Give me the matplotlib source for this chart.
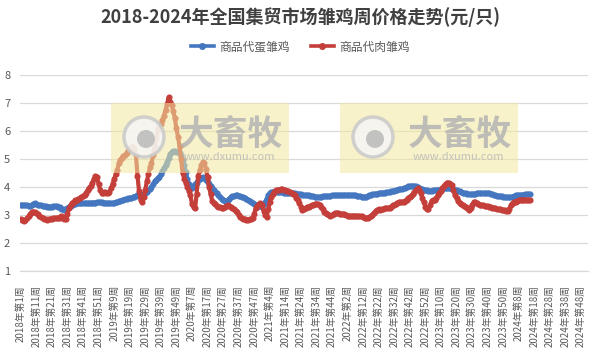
import matplotlib.pyplot as plt
from matplotlib.patches import Rectangle, Circle
from matplotlib.lines import Line2D

plt.rcParams['font.family'] = ['Noto Sans CJK SC', 'DejaVu Sans']

# 年份与每年的周数（2020年有53周）
years = [2018, 2019, 2020, 2021, 2022, 2023, 2024]
weeks_per_year = [52, 52, 53, 52, 52, 52, 52]

# 商品代蛋雏鸡 周价格 (元/只)
egg_2018 = [3.36, 3.36, 3.35, 3.35, 3.34, 3.33, 3.33, 3.36, 3.40, 3.42,
            3.40, 3.37, 3.35, 3.34, 3.33, 3.32, 3.31, 3.30, 3.30, 3.30,
            3.30, 3.31, 3.32, 3.32, 3.30, 3.27, 3.23, 3.20, 3.19, 3.20,
            3.25, 3.30, 3.33, 3.35, 3.38, 3.40, 3.42, 3.43, 3.43, 3.43,
            3.42, 3.42, 3.43, 3.43, 3.43, 3.43, 3.44, 3.44, 3.44, 3.45,
            3.45, 3.45]
egg_2019 = [3.45, 3.44, 3.44, 3.43, 3.43, 3.43, 3.43, 3.43, 3.43, 3.45,
            3.47, 3.49, 3.51, 3.53, 3.54, 3.56, 3.57, 3.59, 3.60, 3.62,
            3.64, 3.66, 3.68, 3.70, 3.71, 3.72, 3.73, 3.75, 3.78, 3.83,
            3.88, 3.94, 4.00, 4.10, 4.20, 4.26, 4.31, 4.36, 4.45, 4.58,
            4.68, 4.78, 4.90, 5.05, 5.18, 5.24, 5.27, 5.27, 5.26, 5.25,
            5.20, 5.10]
egg_2020 = [4.95, 4.80, 4.55, 4.30, 4.10, 3.96, 3.98, 4.05, 4.10, 4.16,
            4.24, 4.30, 4.33, 4.35, 4.32, 4.25, 4.18, 4.10, 4.02, 3.95,
            3.88, 3.82, 3.78, 3.70, 3.63, 3.58, 3.53, 3.50, 3.48, 3.52,
            3.58, 3.64, 3.67, 3.69, 3.70, 3.70, 3.69, 3.68, 3.66, 3.64,
            3.60, 3.56, 3.52, 3.49, 3.46, 3.43, 3.40, 3.37, 3.35, 3.33,
            3.31, 3.30, 3.38]
egg_2021 = [3.45, 3.58, 3.70, 3.78, 3.82, 3.83, 3.83, 3.83, 3.82, 3.83,
            3.82, 3.81, 3.80, 3.80, 3.80, 3.79, 3.79, 3.78, 3.78, 3.77,
            3.76, 3.76, 3.75, 3.74, 3.73, 3.72, 3.71, 3.70, 3.70, 3.69,
            3.68, 3.67, 3.66, 3.65, 3.65, 3.65, 3.66, 3.67, 3.68, 3.68,
            3.68, 3.68, 3.69, 3.70, 3.70, 3.71, 3.71, 3.71, 3.70, 3.70,
            3.71, 3.72]
egg_2022 = [3.72, 3.72, 3.71, 3.70, 3.70, 3.71, 3.70, 3.69, 3.68, 3.67,
            3.66, 3.65, 3.65, 3.66, 3.68, 3.70, 3.72, 3.74, 3.75, 3.76,
            3.76, 3.77, 3.78, 3.79, 3.80, 3.80, 3.81, 3.82, 3.83, 3.85,
            3.86, 3.87, 3.88, 3.90, 3.92, 3.93, 3.94, 3.96, 3.98, 4.00,
            4.02, 4.03, 4.04, 4.04, 4.03, 4.02, 4.00, 3.97, 3.94, 3.92,
            3.90, 3.89]
egg_2023 = [3.88, 3.87, 3.87, 3.87, 3.88, 3.88, 3.89, 3.90, 3.91, 3.92,
            3.94, 3.96, 3.97, 3.97, 3.96, 3.95, 3.93, 3.92, 3.91, 3.90,
            3.87, 3.84, 3.81, 3.79, 3.78, 3.77, 3.76, 3.75, 3.75, 3.75,
            3.75, 3.76, 3.77, 3.78, 3.78, 3.78, 3.78, 3.78, 3.78, 3.78,
            3.77, 3.76, 3.74, 3.72, 3.70, 3.69, 3.68, 3.68, 3.67, 3.66,
            3.65, 3.64]
egg_2024 = [3.63, 3.63, 3.64, 3.66, 3.68, 3.70, 3.71, 3.71, 3.72, 3.72,
            3.73, 3.74, 3.74, 3.75, 3.75]

# 商品代肉雏鸡 周价格 (元/只)
meat_2018 = [2.85, 2.83, 2.80, 2.82, 2.88, 2.95, 3.02, 3.10, 3.12, 3.10,
             3.08, 3.02, 2.96, 2.92, 2.88, 2.85, 2.84, 2.82, 2.84, 2.86,
             2.87, 2.88, 2.88, 2.89, 2.90, 2.90, 2.95, 2.93, 2.84, 2.85,
             3.05, 3.25, 3.35, 3.42, 3.48, 3.52, 3.55, 3.58, 3.60, 3.64,
             3.68, 3.72, 3.80, 3.88, 3.95, 4.05, 4.15, 4.30, 4.38, 4.36,
             4.10, 3.90]
meat_2019 = [3.78, 3.80, 3.83, 3.80, 3.78, 3.82, 3.95, 4.12, 4.30, 4.45,
             4.60, 4.85, 4.98, 5.05, 5.10, 5.15, 5.22, 5.30, 5.38, 5.42,
             5.44, 5.35, 5.15, 4.40, 3.85, 3.55, 3.47, 3.65, 3.90, 4.20,
             4.45, 4.70, 4.85, 5.15, 5.45, 5.75, 6.04, 6.15, 6.25, 6.38,
             6.55, 6.75, 6.95, 7.20, 7.05, 6.92, 6.70, 6.45, 6.10, 5.80,
             5.45, 5.00]
meat_2020 = [4.50, 4.30, 4.15, 4.00, 3.85, 3.70, 3.40, 3.28, 3.24, 3.75,
             4.40, 4.60, 4.78, 4.88, 4.85, 4.65, 4.35, 4.00, 3.75, 3.50,
             3.42, 3.38, 3.32, 3.30, 3.28, 3.26, 3.25, 3.28, 3.32, 3.35,
             3.32, 3.30, 3.25, 3.20, 3.15, 3.10, 3.00, 2.94, 2.90, 2.87,
             2.84, 2.82, 2.82, 2.84, 2.86, 2.88, 3.05, 3.25, 3.32, 3.38,
             3.42, 3.35, 3.15]
meat_2021 = [3.00, 2.94, 3.20, 3.45, 3.65, 3.75, 3.82, 3.88, 3.90, 3.91,
             3.92, 3.92, 3.90, 3.88, 3.86, 3.84, 3.83, 3.80, 3.75, 3.70,
             3.62, 3.52, 3.42, 3.30, 3.18, 3.20, 3.24, 3.27, 3.30, 3.32,
             3.34, 3.36, 3.38, 3.40, 3.40, 3.35, 3.28, 3.20, 3.12, 3.08,
             3.04, 3.00, 2.98, 3.00, 3.04, 3.07, 3.08, 3.06, 3.05, 3.04,
             3.03, 3.02]
meat_2022 = [3.00, 2.98, 2.96, 2.95, 2.96, 2.98, 2.97, 2.96, 2.95, 2.96,
             2.95, 2.93, 2.90, 2.88, 2.89, 2.92, 2.95, 3.00, 3.08, 3.14,
             3.18, 3.20, 3.18, 3.20, 3.22, 3.24, 3.25, 3.25, 3.26, 3.30,
             3.34, 3.36, 3.40, 3.44, 3.45, 3.46, 3.47, 3.48, 3.50, 3.55,
             3.60, 3.64, 3.68, 3.75, 3.82, 3.90, 3.95, 3.90, 3.78, 3.62,
             3.45, 3.30]
meat_2023 = [3.20, 3.22, 3.35, 3.50, 3.53, 3.55, 3.62, 3.70, 3.78, 3.85,
             3.95, 4.05, 4.12, 4.16, 4.15, 4.12, 4.07, 3.90, 3.71, 3.60,
             3.50, 3.43, 3.40, 3.36, 3.33, 3.30, 3.26, 3.18, 3.25, 3.35,
             3.45, 3.47, 3.42, 3.38, 3.36, 3.35, 3.34, 3.33, 3.32, 3.31,
             3.30, 3.28, 3.26, 3.25, 3.24, 3.22, 3.21, 3.20, 3.19, 3.18,
             3.17, 3.16]
meat_2024 = [3.15, 3.22, 3.35, 3.43, 3.46, 3.48, 3.50, 3.52, 3.53, 3.54,
             3.55, 3.55, 3.54, 3.53, 3.53]

egg = egg_2018 + egg_2019 + egg_2020 + egg_2021 + egg_2022 + egg_2023 + egg_2024
meat = meat_2018 + meat_2019 + meat_2020 + meat_2021 + meat_2022 + meat_2023 + meat_2024

# 横轴类别：每一周一个
week_labels = []
for y, n in zip(years, weeks_per_year):
    for w in range(1, n + 1):
        week_labels.append(f'{y}年第{w}周')

blue = '#4577c0'
red = '#c43e3a'
grid_col = '#d9d9d9'
text_col = '#595959'

fig = plt.figure(figsize=(6, 3.53), dpi=100)
ax = fig.add_axes([20 / 600, 1 - 271 / 353, 568 / 600, 196 / 353])

ax.plot(range(len(egg)), egg, color=blue, lw=3.0, marker='o', ms=3.4, zorder=3)
ax.plot(range(len(meat)), meat, color=red, lw=3.0, marker='o', ms=3.4, zorder=4)

ax.set_xlim(-0.5, len(week_labels) - 0.5)
ax.set_ylim(1, 8)
ax.set_yticks(range(1, 9))
ax.grid(axis='y', color=grid_col, lw=0.9)
ax.set_axisbelow(True)
for s in ['top', 'right', 'left']:
    ax.spines[s].set_visible(False)
ax.spines['bottom'].set_color(grid_col)
ax.spines['bottom'].set_linewidth(0.9)

ticks = list(range(0, len(week_labels), 10))
ax.set_xticks(ticks)
ax.set_xticklabels([week_labels[i] for i in ticks], rotation=90, fontsize=7,
                   color=text_col)
ax.tick_params(axis='x', length=0, pad=10)
ax.tick_params(axis='y', length=0, pad=7, labelsize=8, labelcolor=text_col)

# 水印（半透明，盖在折线上面）
wm = fig.add_axes([0, 0, 1, 1], zorder=5)
wm.set_xlim(0, 600)
wm.set_ylim(353, 0)
wm.set_aspect('equal')
wm.axis('off')
for dx in [0, 229]:
    wm.add_patch(Rectangle((111 + dx, 103), 178, 70, facecolor='#f3e9a0',
                           alpha=0.55, edgecolor='none'))
    wm.add_patch(Circle((144 + dx, 137), 20, facecolor='#f5f5f5', edgecolor='#c9c9c9',
                        lw=2.5, alpha=0.85))
    wm.add_patch(Circle((146 + dx, 139), 9, facecolor='#bdbdbd', edgecolor='none',
                        alpha=0.9))
    wm.text(231 + dx, 134, '大畜牧', fontsize=25, fontweight='bold',
            color='#b3b3b3', ha='center', va='center', alpha=0.85)
    wm.text(229 + dx, 157, 'www.dxumu.com', fontsize=8,
            color='#b8b8b8', ha='center', va='center', alpha=0.85)

fig.text(0.5, 1 - 17 / 353, '2018-2024年全国集贸市场雏鸡周价格走势(元/只)',
         fontsize=13, fontweight='bold', color='#404040', ha='center', va='center')

handles = [Line2D([], [], color=blue, lw=2.6, marker='o', ms=4),
           Line2D([], [], color=red, lw=2.6, marker='o', ms=4)]
fig.legend(handles, ['商品代蛋雏鸡', '商品代肉雏鸡'], loc='center',
           bbox_to_anchor=(0.5, 1 - 47 / 353), ncol=2, frameon=False, fontsize=8.5,
           labelcolor=text_col, handlelength=2.0, columnspacing=1.8, handletextpad=0.4)

fig.savefig('out.png', dpi=100)
